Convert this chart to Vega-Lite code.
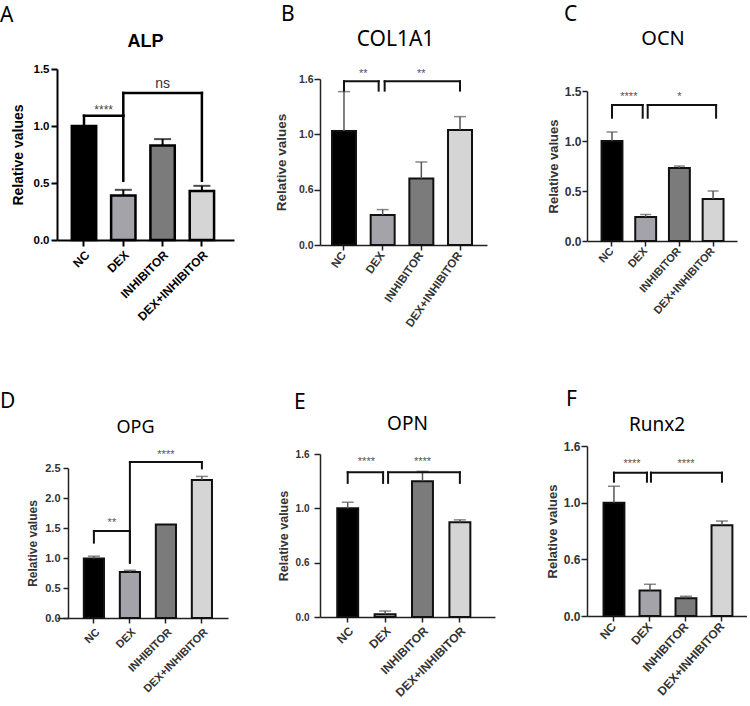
{
  "$schema": "https://vega.github.io/schema/vega-lite/v6.json",
  "background": "white",
  "padding": {"left": 0, "top": 4, "right": 0, "bottom": 0},
  "datasets": {
    "bars": [
      {"gene": "ALP", "group": "NC", "value": 1.0, "err": null},
      {"gene": "ALP", "group": "DEX", "value": 0.39, "err": 0.44},
      {"gene": "ALP", "group": "INHIBITOR", "value": 0.83, "err": 0.885},
      {"gene": "ALP", "group": "DEX+INHIBITOR", "value": 0.43, "err": 0.475},
      {"gene": "COL1A1", "group": "NC", "value": 1.03, "err": 1.386},
      {"gene": "COL1A1", "group": "DEX", "value": 0.27, "err": 0.32},
      {"gene": "COL1A1", "group": "INHIBITOR", "value": 0.6, "err": 0.75},
      {"gene": "COL1A1", "group": "DEX+INHIBITOR", "value": 1.04, "err": 1.16},
      {"gene": "OCN", "group": "NC", "value": 1.0, "err": 1.09},
      {"gene": "OCN", "group": "DEX", "value": 0.24, "err": 0.265},
      {"gene": "OCN", "group": "INHIBITOR", "value": 0.73, "err": 0.75},
      {"gene": "OCN", "group": "DEX+INHIBITOR", "value": 0.42, "err": 0.5},
      {"gene": "OPG", "group": "NC", "value": 0.99, "err": 1.03},
      {"gene": "OPG", "group": "DEX", "value": 0.765, "err": 0.795},
      {"gene": "OPG", "group": "INHIBITOR", "value": 1.56, "err": null},
      {"gene": "OPG", "group": "DEX+INHIBITOR", "value": 2.3, "err": 2.36},
      {"gene": "OPN", "group": "NC", "value": 1.0, "err": 1.056},
      {"gene": "OPN", "group": "DEX", "value": 0.025, "err": 0.055},
      {"gene": "OPN", "group": "INHIBITOR", "value": 1.25, "err": 1.34},
      {"gene": "OPN", "group": "DEX+INHIBITOR", "value": 0.872, "err": 0.894},
      {"gene": "Runx2", "group": "NC", "value": 1.0, "err": 1.145},
      {"gene": "Runx2", "group": "DEX", "value": 0.226, "err": 0.28},
      {"gene": "Runx2", "group": "INHIBITOR", "value": 0.156, "err": 0.174},
      {"gene": "Runx2", "group": "DEX+INHIBITOR", "value": 0.8, "err": 0.838}
    ],
    "brackets": [
      {"gene": "ALP", "from": "NC", "to": "DEX", "mid": "NC", "span": 1, "top": 1.09, "fromEnd": 1.02, "toEnd": 0.52, "label": "****", "labelY": 1.17},
      {"gene": "ALP", "from": "DEX", "to": "DEX+INHIBITOR", "mid": "INHIBITOR", "span": 2, "top": 1.29, "fromEnd": 1.09, "toEnd": 0.52, "label": "ns", "labelY": 1.37},
      {"gene": "COL1A1", "from": "NC", "to": "DEX", "mid": "NC", "span": 1, "top": 1.479, "fromEnd": 1.395, "toEnd": 1.395, "label": "**", "labelY": 1.576},
      {"gene": "COL1A1", "from": "DEX", "to": "DEX+INHIBITOR", "mid": "INHIBITOR", "span": 2, "top": 1.479, "fromEnd": 1.395, "toEnd": 1.395, "label": "**", "labelY": 1.576},
      {"gene": "OCN", "from": "NC", "to": "DEX", "mid": "NC", "span": 1, "top": 1.36, "fromEnd": 1.233, "toEnd": 1.233, "label": "****", "labelY": 1.473},
      {"gene": "OCN", "from": "DEX", "to": "DEX+INHIBITOR", "mid": "INHIBITOR", "span": 2, "top": 1.36, "fromEnd": 1.233, "toEnd": 1.233, "label": "*", "labelY": 1.473},
      {"gene": "OPG", "from": "NC", "to": "DEX", "mid": "NC", "span": 1, "top": 1.45, "fromEnd": 1.256, "toEnd": 0.922, "label": "**", "labelY": 1.63},
      {"gene": "OPG", "from": "DEX", "to": "DEX+INHIBITOR", "mid": "INHIBITOR", "span": 2, "top": 2.6, "fromEnd": 0.922, "toEnd": 2.494, "label": "****", "labelY": 2.77},
      {"gene": "OPN", "from": "NC", "to": "DEX", "mid": "NC", "span": 1, "top": 1.331, "fromEnd": 1.234, "toEnd": 1.234, "label": "****", "labelY": 1.457},
      {"gene": "OPN", "from": "DEX", "to": "DEX+INHIBITOR", "mid": "INHIBITOR", "span": 2, "top": 1.331, "fromEnd": 1.234, "toEnd": 1.234, "label": "****", "labelY": 1.457},
      {"gene": "Runx2", "from": "NC", "to": "DEX", "mid": "NC", "span": 1, "top": 1.265, "fromEnd": 1.185, "toEnd": 1.185, "label": "****", "labelY": 1.368},
      {"gene": "Runx2", "from": "DEX", "to": "DEX+INHIBITOR", "mid": "INHIBITOR", "span": 2, "top": 1.265, "fromEnd": 1.185, "toEnd": 1.185, "label": "****", "labelY": 1.368}
    ]
  },
  "spacing": 40,
  "hconcat": [
    {
      "spacing": 68,
      "vconcat": [
        {
          "spacing": 9,
          "vconcat": [
            {
              "width": 177, "height": 24,
              "title": {"text": "A", "anchor": "start", "frame": "group", "dx": -57, "offset": 4, "font": "Noto Sans", "fontSize": 21, "fontWeight": "normal", "color": "black"},
              "data": {"values": [{"gene": "ALP"}]},
              "mark": {"type": "text", "font": "Liberation Sans", "fontSize": 18, "fontWeight": "bold", "color": "black", "baseline": "middle"},
              "encoding": {"text": {"field": "gene"}}
            },
            {
              "width": 177, "height": 171,
              "layer": [
                {"data": {"name": "bars"}, "transform": [{"filter": "datum.gene == 'ALP'"}],
                 "mark": {"type": "bar", "width": {"band": 0.62}, "stroke": "black", "strokeWidth": 2.5},
                 "encoding": {
                   "x": {"field": "group", "type": "nominal", "title": null,
                         "scale": {"domain": ["NC", "DEX", "INHIBITOR", "DEX+INHIBITOR"], "paddingInner": 0, "paddingOuter": 0.252, "align": 0.371},
                         "axis": {"labelAngle": -45, "labelFont": "Liberation Sans", "labelFontSize": 12, "labelFontWeight": "bold", "labelColor": "black", "domainColor": "black", "domainWidth": 2, "tickColor": "black", "tickWidth": 2, "tickSize": 6, "labelPadding": 3}},
                   "y": {"field": "value", "type": "quantitative", "title": "Relative values",
                         "scale": {"domain": [0, 1.5], "nice": false},
                         "axis": {"values": [0, 0.5, 1, 1.5], "tickCount": 10, "format": ".1f", "labelOverlap": false, "labelFont": "Liberation Sans", "labelFontSize": 11.5, "labelFontWeight": "bold", "labelColor": "black", "titleFont": "Liberation Sans", "titleFontSize": 14, "titleFontWeight": "bold", "titleColor": "black", "domainColor": "black", "domainWidth": 2, "tickColor": "black", "tickWidth": 2, "tickSize": 6, "labelPadding": 2, "titlePadding": 8}},
                   "color": {"field": "group", "type": "nominal", "legend": null,
                             "scale": {"domain": ["NC", "DEX", "INHIBITOR", "DEX+INHIBITOR"], "range": ["#000000", "#a3a3a9", "#7b7b7b", "#d5d5d5"]}}
                 }},
                {"data": {"name": "bars"}, "transform": [{"filter": "datum.gene == 'ALP' && isValid(datum.err)"}],
                 "mark": {"type": "rule", "color": "black", "strokeWidth": 2},
                 "encoding": {"x": {"field": "group", "type": "nominal"}, "y": {"field": "value", "type": "quantitative"}, "y2": {"field": "err"}}},
                {"data": {"name": "bars"}, "transform": [{"filter": "datum.gene == 'ALP' && isValid(datum.err)"}],
                 "mark": {"type": "tick", "color": "black", "thickness": 2, "size": 17},
                 "encoding": {"x": {"field": "group", "type": "nominal"}, "y": {"field": "err", "type": "quantitative"}}},
                {"data": {"name": "brackets"}, "transform": [{"filter": "datum.gene == 'ALP'"}],
                 "mark": {"type": "rule", "color": "black", "strokeWidth": 2.5, "strokeCap": "square"},
                 "encoding": {"x": {"field": "from", "type": "nominal", "bandPosition": 0.5}, "x2": {"field": "to", "bandPosition": 0.5}, "y": {"field": "top", "type": "quantitative"}}},
                {"data": {"name": "brackets"}, "transform": [{"filter": "datum.gene == 'ALP'"}],
                 "mark": {"type": "rule", "color": "black", "strokeWidth": 2.5, "strokeCap": "square"},
                 "encoding": {"x": {"field": "from", "type": "nominal"}, "y": {"field": "top", "type": "quantitative"}, "y2": {"field": "fromEnd"}}},
                {"data": {"name": "brackets"}, "transform": [{"filter": "datum.gene == 'ALP'"}],
                 "mark": {"type": "rule", "color": "black", "strokeWidth": 2.5, "strokeCap": "square"},
                 "encoding": {"x": {"field": "to", "type": "nominal"}, "y": {"field": "top", "type": "quantitative"}, "y2": {"field": "toEnd"}}},
                {"data": {"name": "brackets"}, "transform": [{"filter": "datum.gene == 'ALP' && datum.span == 1"}],
                 "mark": {"type": "text", "font": "Liberation Sans", "fontSize": 12, "color": "#444", "baseline": "middle", "dy": 3},
                 "encoding": {"x": {"field": "mid", "type": "nominal", "bandPosition": 1}, "y": {"field": "labelY", "type": "quantitative"}, "text": {"field": "label"}}},
                {"data": {"name": "brackets"}, "transform": [{"filter": "datum.gene == 'ALP' && datum.span == 2"}],
                 "mark": {"type": "text", "font": "Liberation Sans", "fontSize": 14, "color": "#333", "baseline": "middle"},
                 "encoding": {"x": {"field": "mid", "type": "nominal", "bandPosition": 0.5}, "y": {"field": "labelY", "type": "quantitative"}, "text": {"field": "label"}}}
              ]
            }
          ]
        },
        {
          "spacing": 8,
          "vconcat": [
            {
              "width": 171, "height": 24,
              "title": {"text": "D", "anchor": "start", "frame": "group", "dx": -57, "offset": 4, "font": "Noto Sans", "fontSize": 21, "fontWeight": "normal", "color": "black"},
              "data": {"values": [{"gene": "OPG"}]},
              "mark": {"type": "text", "font": "Noto Sans", "fontSize": 18, "color": "black", "baseline": "middle", "dx": -7},
              "encoding": {"text": {"field": "gene"}}
            },
            {
              "width": 171, "height": 150,
              "layer": [
                {"data": {"name": "bars"}, "transform": [{"filter": "datum.gene == 'OPG'"}],
                 "mark": {"type": "bar", "width": {"band": 0.56}, "stroke": "#111", "strokeWidth": 2},
                 "encoding": {
                   "x": {"field": "group", "type": "nominal", "title": null,
                         "scale": {"domain": ["NC", "DEX", "INHIBITOR", "DEX+INHIBITOR"], "paddingInner": 0, "paddingOuter": 0.375, "align": 0.7},
                         "axis": {"labelAngle": -45, "labelFont": "Liberation Sans", "labelFontSize": 11, "labelFontWeight": "bold", "labelColor": "#333", "domainColor": "#222", "domainWidth": 1.5, "tickColor": "#222", "tickWidth": 1.5, "tickSize": 5, "labelPadding": 3}},
                   "y": {"field": "value", "type": "quantitative", "title": "Relative values",
                         "scale": {"domain": [0, 2.5], "nice": false},
                         "axis": {"offset": -11, "values": [0, 0.5, 1, 1.5, 2, 2.5], "tickCount": 10, "format": ".1f", "labelOverlap": false, "labelFont": "Liberation Sans", "labelFontSize": 11, "labelFontWeight": "bold", "labelColor": "#333", "titleFont": "Liberation Sans", "titleFontSize": 12, "titleFontWeight": "bold", "titleColor": "#333", "domainColor": "#222", "domainWidth": 1.5, "tickColor": "#222", "tickWidth": 1.5, "tickSize": 5, "labelPadding": 3, "titlePadding": 5}},
                   "color": {"field": "group", "type": "nominal", "legend": null,
                             "scale": {"domain": ["NC", "DEX", "INHIBITOR", "DEX+INHIBITOR"], "range": ["#000000", "#a3a3a9", "#7b7b7b", "#d5d5d5"]}}
                 }},
                {"data": {"name": "bars"}, "transform": [{"filter": "datum.gene == 'OPG' && isValid(datum.err)"}],
                 "mark": {"type": "rule", "color": "#555", "strokeWidth": 1.5},
                 "encoding": {"x": {"field": "group", "type": "nominal"}, "y": {"field": "value", "type": "quantitative"}, "y2": {"field": "err"}}},
                {"data": {"name": "bars"}, "transform": [{"filter": "datum.gene == 'OPG' && isValid(datum.err)"}],
                 "mark": {"type": "tick", "color": "#555", "thickness": 1.5, "size": 12},
                 "encoding": {"x": {"field": "group", "type": "nominal"}, "y": {"field": "err", "type": "quantitative"}}},
                {"data": {"name": "brackets"}, "transform": [{"filter": "datum.gene == 'OPG'"}],
                 "mark": {"type": "rule", "color": "#111", "strokeWidth": 2, "strokeCap": "square"},
                 "encoding": {"x": {"field": "from", "type": "nominal", "bandPosition": 0.5}, "x2": {"field": "to", "bandPosition": 0.5}, "y": {"field": "top", "type": "quantitative"}}},
                {"data": {"name": "brackets"}, "transform": [{"filter": "datum.gene == 'OPG'"}],
                 "mark": {"type": "rule", "color": "#111", "strokeWidth": 2, "strokeCap": "square"},
                 "encoding": {"x": {"field": "from", "type": "nominal"}, "y": {"field": "top", "type": "quantitative"}, "y2": {"field": "fromEnd"}}},
                {"data": {"name": "brackets"}, "transform": [{"filter": "datum.gene == 'OPG'"}],
                 "mark": {"type": "rule", "color": "#111", "strokeWidth": 2, "strokeCap": "square"},
                 "encoding": {"x": {"field": "to", "type": "nominal"}, "y": {"field": "top", "type": "quantitative"}, "y2": {"field": "toEnd"}}},
                {"data": {"name": "brackets"}, "transform": [{"filter": "datum.gene == 'OPG' && datum.span == 1"}],
                 "mark": {"type": "text", "font": "Liberation Sans", "fontSize": 11, "color": "#555", "baseline": "middle", "dy": 3},
                 "encoding": {"x": {"field": "mid", "type": "nominal", "bandPosition": 1}, "y": {"field": "labelY", "type": "quantitative"}, "text": {"field": "label"}}},
                {"data": {"name": "brackets"}, "transform": [{"filter": "datum.gene == 'OPG' && datum.span == 2"}],
                 "mark": {"type": "text", "font": "Liberation Sans", "fontSize": 11, "color": "#555", "baseline": "middle", "dy": 3},
                 "encoding": {"x": {"field": "mid", "type": "nominal", "bandPosition": 0.5}, "y": {"field": "labelY", "type": "quantitative"}, "text": {"field": "label"}}}
              ]
            }
          ]
        }
      ]
    },
    {
      "spacing": 51,
      "hconcat": [
        {
          "spacing": 62,
          "vconcat": [
            {
              "spacing": 13,
              "vconcat": [
                {
                  "width": 167, "height": 24,
                  "title": {"text": "B", "anchor": "start", "frame": "group", "dx": -39, "offset": 4, "font": "Noto Sans", "fontSize": 21, "fontWeight": "normal", "color": "black"},
                  "data": {"values": [{"gene": "COL1A1"}]},
                  "mark": {"type": "text", "font": "Noto Sans", "fontSize": 21, "color": "black", "baseline": "middle", "dx": -8, "dy": -2},
                  "encoding": {"text": {"field": "gene"}}
                },
                {
                  "width": 167, "height": 166,
                  "layer": [
                    {"data": {"name": "bars"}, "transform": [{"filter": "datum.gene == 'COL1A1'"}],
                     "mark": {"type": "bar", "width": {"band": 0.62}, "stroke": "#111", "strokeWidth": 2},
                     "encoding": {
                       "x": {"field": "group", "type": "nominal", "title": null,
                             "scale": {"domain": ["NC", "DEX", "INHIBITOR", "DEX+INHIBITOR"], "paddingInner": 0, "paddingOuter": 0.159, "align": 0.378},
                             "axis": {"labelAngle": -55, "labelFont": "Liberation Sans", "labelFontSize": 11.5, "labelFontWeight": "bold", "labelColor": "#333", "domainColor": "#222", "domainWidth": 1.5, "tickColor": "#222", "tickWidth": 1.5, "tickSize": 5, "labelPadding": 3}},
                       "y": {"field": "value", "type": "quantitative", "title": "Relative values",
                             "scale": {"domain": [0, 1.5], "nice": false},
                             "axis": {"values": [0, 0.5, 1, 1.5], "tickCount": 10, "labelExpr": "datum.value == 0.5 ? '0.6' : datum.value == 1.5 ? '1.6' : format(datum.value, '.1f')", "labelOverlap": false, "labelFont": "Liberation Sans", "labelFontSize": 10.5, "labelFontWeight": "bold", "labelColor": "#333", "titleFont": "Liberation Sans", "titleFontSize": 13.5, "titleFontWeight": "bold", "titleColor": "#333", "domainColor": "#222", "domainWidth": 1.5, "tickColor": "#222", "tickWidth": 1.5, "tickSize": 6, "labelPadding": 1, "titlePadding": 10}},
                       "color": {"field": "group", "type": "nominal", "legend": null,
                                 "scale": {"domain": ["NC", "DEX", "INHIBITOR", "DEX+INHIBITOR"], "range": ["#000000", "#a3a3a9", "#7b7b7b", "#d5d5d5"]}}
                     }},
                    {"data": {"name": "bars"}, "transform": [{"filter": "datum.gene == 'COL1A1' && isValid(datum.err)"}],
                     "mark": {"type": "rule", "color": "#555", "strokeWidth": 1.5},
                     "encoding": {"x": {"field": "group", "type": "nominal"}, "y": {"field": "value", "type": "quantitative"}, "y2": {"field": "err"}}},
                    {"data": {"name": "bars"}, "transform": [{"filter": "datum.gene == 'COL1A1' && isValid(datum.err)"}],
                     "mark": {"type": "tick", "color": "#555", "thickness": 1.5, "size": 12},
                     "encoding": {"x": {"field": "group", "type": "nominal"}, "y": {"field": "err", "type": "quantitative"}}},
                    {"data": {"name": "brackets"}, "transform": [{"filter": "datum.gene == 'COL1A1' && datum.span == 1"}],
                     "mark": {"type": "rule", "color": "#111", "strokeWidth": 2, "strokeCap": "square", "x2Offset": -4},
                     "encoding": {"x": {"field": "from", "type": "nominal", "bandPosition": 0.5}, "x2": {"field": "to", "bandPosition": 0.5}, "y": {"field": "top", "type": "quantitative"}}},
                    {"data": {"name": "brackets"}, "transform": [{"filter": "datum.gene == 'COL1A1' && datum.span == 2"}],
                     "mark": {"type": "rule", "color": "#111", "strokeWidth": 2, "strokeCap": "square", "xOffset": 2},
                     "encoding": {"x": {"field": "from", "type": "nominal", "bandPosition": 0.5}, "x2": {"field": "to", "bandPosition": 0.5}, "y": {"field": "top", "type": "quantitative"}}},
                    {"data": {"name": "brackets"}, "transform": [{"filter": "datum.gene == 'COL1A1' && datum.span == 1"}],
                     "mark": {"type": "rule", "color": "#111", "strokeWidth": 2, "strokeCap": "square"},
                     "encoding": {"x": {"field": "from", "type": "nominal"}, "y": {"field": "top", "type": "quantitative"}, "y2": {"field": "fromEnd"}}},
                    {"data": {"name": "brackets"}, "transform": [{"filter": "datum.gene == 'COL1A1' && datum.span == 2"}],
                     "mark": {"type": "rule", "color": "#111", "strokeWidth": 2, "strokeCap": "square", "xOffset": 2},
                     "encoding": {"x": {"field": "from", "type": "nominal"}, "y": {"field": "top", "type": "quantitative"}, "y2": {"field": "fromEnd"}}},
                    {"data": {"name": "brackets"}, "transform": [{"filter": "datum.gene == 'COL1A1' && datum.span == 1"}],
                     "mark": {"type": "rule", "color": "#111", "strokeWidth": 2, "strokeCap": "square", "xOffset": -4},
                     "encoding": {"x": {"field": "to", "type": "nominal"}, "y": {"field": "top", "type": "quantitative"}, "y2": {"field": "toEnd"}}},
                    {"data": {"name": "brackets"}, "transform": [{"filter": "datum.gene == 'COL1A1' && datum.span == 2"}],
                     "mark": {"type": "rule", "color": "#111", "strokeWidth": 2, "strokeCap": "square"},
                     "encoding": {"x": {"field": "to", "type": "nominal"}, "y": {"field": "top", "type": "quantitative"}, "y2": {"field": "toEnd"}}},
                    {"data": {"name": "brackets"}, "transform": [{"filter": "datum.gene == 'COL1A1' && datum.span == 1"}],
                     "mark": {"type": "text", "font": "Liberation Sans", "fontSize": 11, "color": "#555", "baseline": "middle", "dy": 3},
                     "encoding": {"x": {"field": "mid", "type": "nominal", "bandPosition": 1}, "y": {"field": "labelY", "type": "quantitative"}, "text": {"field": "label"}}},
                    {"data": {"name": "brackets"}, "transform": [{"filter": "datum.gene == 'COL1A1' && datum.span == 2"}],
                     "mark": {"type": "text", "font": "Liberation Sans", "fontSize": 11, "color": "#555", "baseline": "middle", "dy": 3},
                     "encoding": {"x": {"field": "mid", "type": "nominal", "bandPosition": 0.5}, "y": {"field": "labelY", "type": "quantitative"}, "text": {"field": "label"}}}
                  ]
                }
              ]
            },
            {
              "spacing": 13,
              "vconcat": [
                {
                  "width": 175, "height": 24,
                  "title": {"text": "E", "anchor": "start", "frame": "group", "dx": -26, "offset": -1, "font": "Noto Sans", "fontSize": 21, "fontWeight": "normal", "color": "black"},
                  "data": {"values": [{"gene": "OPN"}]},
                  "mark": {"type": "text", "font": "Noto Sans", "fontSize": 19, "color": "black", "baseline": "middle"},
                  "encoding": {"text": {"field": "gene"}}
                },
                {
                  "width": 175, "height": 163,
                  "layer": [
                    {"data": {"name": "bars"}, "transform": [{"filter": "datum.gene == 'OPN'"}],
                     "mark": {"type": "bar", "width": {"band": 0.56}, "stroke": "#111", "strokeWidth": 2},
                     "encoding": {
                       "x": {"field": "group", "type": "nominal", "title": null,
                             "scale": {"domain": ["NC", "DEX", "INHIBITOR", "DEX+INHIBITOR"], "paddingInner": 0, "paddingOuter": 0.34, "align": 0.354},
                             "axis": {"labelAngle": -45, "labelFont": "Liberation Sans", "labelFontSize": 12, "labelFontWeight": "bold", "labelColor": "#333", "domainColor": "#222", "domainWidth": 1.5, "tickColor": "#222", "tickWidth": 1.5, "tickSize": 5, "labelPadding": 3}},
                       "y": {"field": "value", "type": "quantitative", "title": "Relative values",
                             "scale": {"domain": [0, 1.5], "nice": false},
                             "axis": {"values": [0, 0.5, 1, 1.5], "tickCount": 10, "labelExpr": "datum.value == 0.5 ? '0.6' : datum.value == 1.5 ? '1.6' : format(datum.value, '.1f')", "labelOverlap": false, "labelFont": "Liberation Sans", "labelFontSize": 10, "labelFontWeight": "bold", "labelColor": "#333", "titleFont": "Liberation Sans", "titleFontSize": 12.5, "titleFontWeight": "bold", "titleColor": "#333", "domainColor": "#222", "domainWidth": 1.5, "tickColor": "#222", "tickWidth": 1.5, "tickSize": 6, "labelPadding": 5, "titlePadding": 5}},
                       "color": {"field": "group", "type": "nominal", "legend": null,
                                 "scale": {"domain": ["NC", "DEX", "INHIBITOR", "DEX+INHIBITOR"], "range": ["#000000", "#a3a3a9", "#7b7b7b", "#d5d5d5"]}}
                     }},
                    {"data": {"name": "bars"}, "transform": [{"filter": "datum.gene == 'OPN' && isValid(datum.err)"}],
                     "mark": {"type": "rule", "color": "#555", "strokeWidth": 1.5},
                     "encoding": {"x": {"field": "group", "type": "nominal"}, "y": {"field": "value", "type": "quantitative"}, "y2": {"field": "err"}}},
                    {"data": {"name": "bars"}, "transform": [{"filter": "datum.gene == 'OPN' && isValid(datum.err)"}],
                     "mark": {"type": "tick", "color": "#555", "thickness": 1.5, "size": 12},
                     "encoding": {"x": {"field": "group", "type": "nominal"}, "y": {"field": "err", "type": "quantitative"}}},
                    {"data": {"name": "brackets"}, "transform": [{"filter": "datum.gene == 'OPN' && datum.span == 1"}],
                     "mark": {"type": "rule", "color": "#111", "strokeWidth": 2, "strokeCap": "square", "x2Offset": -2},
                     "encoding": {"x": {"field": "from", "type": "nominal", "bandPosition": 0.5}, "x2": {"field": "to", "bandPosition": 0.5}, "y": {"field": "top", "type": "quantitative"}}},
                    {"data": {"name": "brackets"}, "transform": [{"filter": "datum.gene == 'OPN' && datum.span == 2"}],
                     "mark": {"type": "rule", "color": "#111", "strokeWidth": 2, "strokeCap": "square", "xOffset": 3},
                     "encoding": {"x": {"field": "from", "type": "nominal", "bandPosition": 0.5}, "x2": {"field": "to", "bandPosition": 0.5}, "y": {"field": "top", "type": "quantitative"}}},
                    {"data": {"name": "brackets"}, "transform": [{"filter": "datum.gene == 'OPN' && datum.span == 1"}],
                     "mark": {"type": "rule", "color": "#111", "strokeWidth": 2, "strokeCap": "square"},
                     "encoding": {"x": {"field": "from", "type": "nominal"}, "y": {"field": "top", "type": "quantitative"}, "y2": {"field": "fromEnd"}}},
                    {"data": {"name": "brackets"}, "transform": [{"filter": "datum.gene == 'OPN' && datum.span == 2"}],
                     "mark": {"type": "rule", "color": "#111", "strokeWidth": 2, "strokeCap": "square", "xOffset": 3},
                     "encoding": {"x": {"field": "from", "type": "nominal"}, "y": {"field": "top", "type": "quantitative"}, "y2": {"field": "fromEnd"}}},
                    {"data": {"name": "brackets"}, "transform": [{"filter": "datum.gene == 'OPN' && datum.span == 1"}],
                     "mark": {"type": "rule", "color": "#111", "strokeWidth": 2, "strokeCap": "square", "xOffset": -2},
                     "encoding": {"x": {"field": "to", "type": "nominal"}, "y": {"field": "top", "type": "quantitative"}, "y2": {"field": "toEnd"}}},
                    {"data": {"name": "brackets"}, "transform": [{"filter": "datum.gene == 'OPN' && datum.span == 2"}],
                     "mark": {"type": "rule", "color": "#111", "strokeWidth": 2, "strokeCap": "square"},
                     "encoding": {"x": {"field": "to", "type": "nominal"}, "y": {"field": "top", "type": "quantitative"}, "y2": {"field": "toEnd"}}},
                    {"data": {"name": "brackets"}, "transform": [{"filter": "datum.gene == 'OPN' && datum.span == 1"}],
                     "mark": {"type": "text", "font": "Liberation Sans", "fontSize": 11, "color": "#555", "baseline": "middle", "dy": 3},
                     "encoding": {"x": {"field": "mid", "type": "nominal", "bandPosition": 1}, "y": {"field": "labelY", "type": "quantitative"}, "text": {"field": "label"}}},
                    {"data": {"name": "brackets"}, "transform": [{"filter": "datum.gene == 'OPN' && datum.span == 2"}],
                     "mark": {"type": "text", "font": "Liberation Sans", "fontSize": 11, "color": "#555", "baseline": "middle", "dy": 3},
                     "encoding": {"x": {"field": "mid", "type": "nominal", "bandPosition": 0.5}, "y": {"field": "labelY", "type": "quantitative"}, "text": {"field": "label"}}}
                  ]
                }
              ]
            }
          ]
        },
        {
          "spacing": 73,
          "vconcat": [
            {
              "spacing": 31,
              "vconcat": [
                {
                  "width": 150, "height": 24,
                  "title": {"text": "C", "anchor": "start", "frame": "group", "dx": -23, "offset": 4, "font": "Noto Sans", "fontSize": 21, "fontWeight": "normal", "color": "black"},
                  "data": {"values": [{"gene": "OCN"}]},
                  "mark": {"type": "text", "font": "Noto Sans", "fontSize": 20, "color": "black", "baseline": "middle", "dx": 1, "dy": -3},
                  "encoding": {"text": {"field": "gene"}}
                },
                {
                  "width": 150, "height": 150,
                  "layer": [
                    {"data": {"name": "bars"}, "transform": [{"filter": "datum.gene == 'OCN'"}],
                     "mark": {"type": "bar", "width": {"band": 0.62}, "stroke": "#111", "strokeWidth": 2},
                     "encoding": {
                       "x": {"field": "group", "type": "nominal", "title": null,
                             "scale": {"domain": ["NC", "DEX", "INHIBITOR", "DEX+INHIBITOR"], "paddingInner": 0, "paddingOuter": 0.2255, "align": 0.536},
                             "axis": {"labelAngle": -48, "labelFont": "Liberation Sans", "labelFontSize": 11, "labelFontWeight": "bold", "labelColor": "#333", "domainColor": "#222", "domainWidth": 1.5, "tickColor": "#222", "tickWidth": 1.5, "tickSize": 5, "labelPadding": 3}},
                       "y": {"field": "value", "type": "quantitative", "title": "Relative values",
                             "scale": {"domain": [0, 1.5], "nice": false},
                             "axis": {"values": [0, 0.5, 1, 1.5], "tickCount": 10, "format": ".1f", "labelOverlap": false, "labelFont": "Liberation Sans", "labelFontSize": 12, "labelFontWeight": "bold", "labelColor": "#333", "titleFont": "Liberation Sans", "titleFontSize": 13, "titleFontWeight": "bold", "titleColor": "#333", "domainColor": "#222", "domainWidth": 1.5, "tickColor": "#222", "tickWidth": 1.5, "tickSize": 5, "labelPadding": 1, "titlePadding": 4}},
                       "color": {"field": "group", "type": "nominal", "legend": null,
                                 "scale": {"domain": ["NC", "DEX", "INHIBITOR", "DEX+INHIBITOR"], "range": ["#000000", "#a3a3a9", "#7b7b7b", "#d5d5d5"]}}
                     }},
                    {"data": {"name": "bars"}, "transform": [{"filter": "datum.gene == 'OCN' && isValid(datum.err)"}],
                     "mark": {"type": "rule", "color": "#555", "strokeWidth": 1.5},
                     "encoding": {"x": {"field": "group", "type": "nominal"}, "y": {"field": "value", "type": "quantitative"}, "y2": {"field": "err"}}},
                    {"data": {"name": "bars"}, "transform": [{"filter": "datum.gene == 'OCN' && isValid(datum.err)"}],
                     "mark": {"type": "tick", "color": "#555", "thickness": 1.5, "size": 11},
                     "encoding": {"x": {"field": "group", "type": "nominal"}, "y": {"field": "err", "type": "quantitative"}}},
                    {"data": {"name": "brackets"}, "transform": [{"filter": "datum.gene == 'OCN' && datum.span == 1"}],
                     "mark": {"type": "rule", "color": "#111", "strokeWidth": 2, "strokeCap": "square", "x2Offset": -3},
                     "encoding": {"x": {"field": "from", "type": "nominal", "bandPosition": 0.5}, "x2": {"field": "to", "bandPosition": 0.5}, "y": {"field": "top", "type": "quantitative"}}},
                    {"data": {"name": "brackets"}, "transform": [{"filter": "datum.gene == 'OCN' && datum.span == 2"}],
                     "mark": {"type": "rule", "color": "#111", "strokeWidth": 2, "strokeCap": "square", "xOffset": 2, "x2Offset": 3},
                     "encoding": {"x": {"field": "from", "type": "nominal", "bandPosition": 0.5}, "x2": {"field": "to", "bandPosition": 0.5}, "y": {"field": "top", "type": "quantitative"}}},
                    {"data": {"name": "brackets"}, "transform": [{"filter": "datum.gene == 'OCN' && datum.span == 1"}],
                     "mark": {"type": "rule", "color": "#111", "strokeWidth": 2, "strokeCap": "square"},
                     "encoding": {"x": {"field": "from", "type": "nominal"}, "y": {"field": "top", "type": "quantitative"}, "y2": {"field": "fromEnd"}}},
                    {"data": {"name": "brackets"}, "transform": [{"filter": "datum.gene == 'OCN' && datum.span == 2"}],
                     "mark": {"type": "rule", "color": "#111", "strokeWidth": 2, "strokeCap": "square", "xOffset": 2},
                     "encoding": {"x": {"field": "from", "type": "nominal"}, "y": {"field": "top", "type": "quantitative"}, "y2": {"field": "fromEnd"}}},
                    {"data": {"name": "brackets"}, "transform": [{"filter": "datum.gene == 'OCN' && datum.span == 1"}],
                     "mark": {"type": "rule", "color": "#111", "strokeWidth": 2, "strokeCap": "square", "xOffset": -3},
                     "encoding": {"x": {"field": "to", "type": "nominal"}, "y": {"field": "top", "type": "quantitative"}, "y2": {"field": "toEnd"}}},
                    {"data": {"name": "brackets"}, "transform": [{"filter": "datum.gene == 'OCN' && datum.span == 2"}],
                     "mark": {"type": "rule", "color": "#111", "strokeWidth": 2, "strokeCap": "square", "xOffset": 3},
                     "encoding": {"x": {"field": "to", "type": "nominal"}, "y": {"field": "top", "type": "quantitative"}, "y2": {"field": "toEnd"}}},
                    {"data": {"name": "brackets"}, "transform": [{"filter": "datum.gene == 'OCN' && datum.span == 1"}],
                     "mark": {"type": "text", "font": "Liberation Sans", "fontSize": 11, "color": "#555", "baseline": "middle", "dy": 3},
                     "encoding": {"x": {"field": "mid", "type": "nominal", "bandPosition": 1}, "y": {"field": "labelY", "type": "quantitative"}, "text": {"field": "label"}}},
                    {"data": {"name": "brackets"}, "transform": [{"filter": "datum.gene == 'OCN' && datum.span == 2"}],
                     "mark": {"type": "text", "font": "Liberation Sans", "fontSize": 11, "color": "#555", "baseline": "middle", "dy": 3},
                     "encoding": {"x": {"field": "mid", "type": "nominal", "bandPosition": 0.5}, "y": {"field": "labelY", "type": "quantitative"}, "text": {"field": "label"}}}
                  ]
                }
              ]
            },
            {
              "spacing": 3,
              "vconcat": [
                {
                  "width": 160, "height": 24,
                  "title": {"text": "F", "anchor": "start", "frame": "group", "dx": -21, "offset": 3, "font": "Noto Sans", "fontSize": 21, "fontWeight": "normal", "color": "black"},
                  "data": {"values": [{"gene": "Runx2"}]},
                  "mark": {"type": "text", "font": "Noto Sans", "fontSize": 19, "color": "black", "baseline": "middle", "dx": -10},
                  "encoding": {"text": {"field": "gene"}}
                },
                {
                  "width": 160, "height": 170,
                  "layer": [
                    {"data": {"name": "bars"}, "transform": [{"filter": "datum.gene == 'Runx2'"}],
                     "mark": {"type": "bar", "width": {"band": 0.58}, "stroke": "#111", "strokeWidth": 2},
                     "encoding": {
                       "x": {"field": "group", "type": "nominal", "title": null,
                             "scale": {"domain": ["NC", "DEX", "INHIBITOR", "DEX+INHIBITOR"], "paddingInner": 0, "paddingOuter": 0.222, "align": 0.56},
                             "axis": {"labelAngle": -48, "labelFont": "Liberation Sans", "labelFontSize": 12, "labelFontWeight": "bold", "labelColor": "#333", "domainColor": "#222", "domainWidth": 1.5, "tickColor": "#222", "tickWidth": 1.5, "tickSize": 5, "labelPadding": 3}},
                       "y": {"field": "value", "type": "quantitative", "title": "Relative values",
                             "scale": {"domain": [0, 1.5], "nice": false},
                             "axis": {"values": [0, 0.5, 1, 1.5], "tickCount": 10, "labelExpr": "datum.value == 0.5 ? '0.6' : datum.value == 1.5 ? '1.6' : format(datum.value, '.1f')", "labelOverlap": false, "labelFont": "Liberation Sans", "labelFontSize": 12, "labelFontWeight": "bold", "labelColor": "#333", "titleFont": "Liberation Sans", "titleFontSize": 13, "titleFontWeight": "bold", "titleColor": "#333", "domainColor": "#222", "domainWidth": 1.5, "tickColor": "#222", "tickWidth": 1.5, "tickSize": 6, "labelPadding": 1, "titlePadding": 4}},
                       "color": {"field": "group", "type": "nominal", "legend": null,
                                 "scale": {"domain": ["NC", "DEX", "INHIBITOR", "DEX+INHIBITOR"], "range": ["#000000", "#a3a3a9", "#7b7b7b", "#d5d5d5"]}}
                     }},
                    {"data": {"name": "bars"}, "transform": [{"filter": "datum.gene == 'Runx2' && isValid(datum.err)"}],
                     "mark": {"type": "rule", "color": "#555", "strokeWidth": 1.5},
                     "encoding": {"x": {"field": "group", "type": "nominal"}, "y": {"field": "value", "type": "quantitative"}, "y2": {"field": "err"}}},
                    {"data": {"name": "bars"}, "transform": [{"filter": "datum.gene == 'Runx2' && isValid(datum.err)"}],
                     "mark": {"type": "tick", "color": "#555", "thickness": 1.5, "size": 12},
                     "encoding": {"x": {"field": "group", "type": "nominal"}, "y": {"field": "err", "type": "quantitative"}}},
                    {"data": {"name": "brackets"}, "transform": [{"filter": "datum.gene == 'Runx2' && datum.span == 1"}],
                     "mark": {"type": "rule", "color": "#111", "strokeWidth": 2, "strokeCap": "square", "x2Offset": -3},
                     "encoding": {"x": {"field": "from", "type": "nominal", "bandPosition": 0.5}, "x2": {"field": "to", "bandPosition": 0.5}, "y": {"field": "top", "type": "quantitative"}}},
                    {"data": {"name": "brackets"}, "transform": [{"filter": "datum.gene == 'Runx2' && datum.span == 2"}],
                     "mark": {"type": "rule", "color": "#111", "strokeWidth": 2, "strokeCap": "square", "xOffset": 1},
                     "encoding": {"x": {"field": "from", "type": "nominal", "bandPosition": 0.5}, "x2": {"field": "to", "bandPosition": 0.5}, "y": {"field": "top", "type": "quantitative"}}},
                    {"data": {"name": "brackets"}, "transform": [{"filter": "datum.gene == 'Runx2' && datum.span == 1"}],
                     "mark": {"type": "rule", "color": "#111", "strokeWidth": 2, "strokeCap": "square"},
                     "encoding": {"x": {"field": "from", "type": "nominal"}, "y": {"field": "top", "type": "quantitative"}, "y2": {"field": "fromEnd"}}},
                    {"data": {"name": "brackets"}, "transform": [{"filter": "datum.gene == 'Runx2' && datum.span == 2"}],
                     "mark": {"type": "rule", "color": "#111", "strokeWidth": 2, "strokeCap": "square", "xOffset": 1},
                     "encoding": {"x": {"field": "from", "type": "nominal"}, "y": {"field": "top", "type": "quantitative"}, "y2": {"field": "fromEnd"}}},
                    {"data": {"name": "brackets"}, "transform": [{"filter": "datum.gene == 'Runx2' && datum.span == 1"}],
                     "mark": {"type": "rule", "color": "#111", "strokeWidth": 2, "strokeCap": "square", "xOffset": -3},
                     "encoding": {"x": {"field": "to", "type": "nominal"}, "y": {"field": "top", "type": "quantitative"}, "y2": {"field": "toEnd"}}},
                    {"data": {"name": "brackets"}, "transform": [{"filter": "datum.gene == 'Runx2' && datum.span == 2"}],
                     "mark": {"type": "rule", "color": "#111", "strokeWidth": 2, "strokeCap": "square"},
                     "encoding": {"x": {"field": "to", "type": "nominal"}, "y": {"field": "top", "type": "quantitative"}, "y2": {"field": "toEnd"}}},
                    {"data": {"name": "brackets"}, "transform": [{"filter": "datum.gene == 'Runx2' && datum.span == 1"}],
                     "mark": {"type": "text", "font": "Liberation Sans", "fontSize": 11, "color": "#555", "baseline": "middle", "dy": 3},
                     "encoding": {"x": {"field": "mid", "type": "nominal", "bandPosition": 1}, "y": {"field": "labelY", "type": "quantitative"}, "text": {"field": "label"}}},
                    {"data": {"name": "brackets"}, "transform": [{"filter": "datum.gene == 'Runx2' && datum.span == 2"}],
                     "mark": {"type": "text", "font": "Liberation Sans", "fontSize": 11, "color": "#555", "baseline": "middle", "dy": 3},
                     "encoding": {"x": {"field": "mid", "type": "nominal", "bandPosition": 0.5}, "y": {"field": "labelY", "type": "quantitative"}, "text": {"field": "label"}}}
                  ]
                }
              ]
            }
          ]
        }
      ]
    }
  ],
  "config": {
    "view": {"stroke": null},
    "axis": {"grid": false}
  }
}
